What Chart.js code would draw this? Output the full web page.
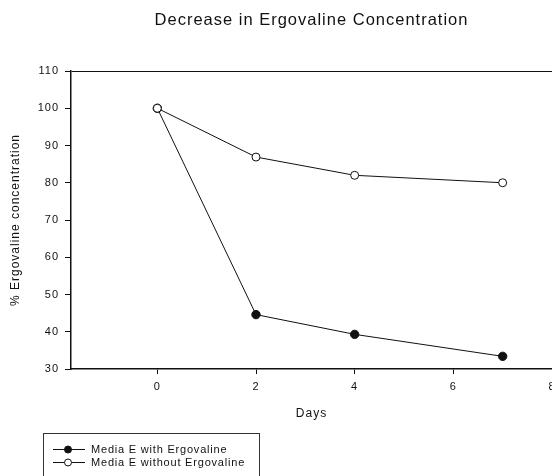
<!DOCTYPE html>
<html>
<head>
<meta charset="utf-8">
<script src="https://cdn.jsdelivr.net/npm/chart.js@4.4.0/dist/chart.umd.min.js"></script>
<style>
    html, body { margin: 0; padding: 0; background: #fff; overflow: hidden; }
    #wrap { width: 552px; height: 476px; overflow: hidden; }
</style>
</head>
<body>
<div id="wrap"><canvas id="myChart" width="575" height="476"></canvas></div>
<script>
// values
const days = [0, 2, 4, 7];
const withErgovaline = [100, 44.6, 39.3, 33.4];
const withoutErgovaline = [100, 86.9, 82.0, 80.0];
const seriesNames = ['Media E with Ergovaline', 'Media E without Ergovaline'];
const xTicks = [0, 2, 4, 6, 8];
const yTicks = [30, 40, 50, 60, 70, 80, 90, 100, 110];

const FONT = '"Liberation Sans", Arial, sans-serif';
const INK = '#111';

const toPoints = (values) => days.map((d, i) => ({ x: d, y: values[i] }));

// scanned text looks slightly letter-spaced
const spacing = {
    id: 'spacing',
    beforeDraw(chart) {
        chart.ctx.letterSpacing = '1px';
    }
};

// boxed legend under the plot, line + marker sample
const legendBox = {
    id: 'legendBox',
    afterDraw(chart) {
        const ctx = chart.ctx;
        ctx.save();
        ctx.strokeStyle = '#333';
        ctx.lineWidth = 1;
        ctx.strokeRect(43.5, 433.5, 216, 60);
        ctx.font = '11px ' + FONT;
        ctx.textBaseline = 'middle';
        ctx.letterSpacing = '0.8px';
        chart.data.datasets.forEach((ds, i) => {
            const y = 449.5 + i * 13;
            ctx.strokeStyle = INK;
            ctx.beginPath();
            ctx.moveTo(53, y);
            ctx.lineTo(85, y);
            ctx.stroke();
            ctx.beginPath();
            ctx.arc(68, y, 3.5, 0, Math.PI * 2);
            ctx.fillStyle = ds.pointBackgroundColor;
            ctx.fill();
            ctx.stroke();
            ctx.fillStyle = INK;
            ctx.fillText(ds.label, 91, y + 0.5);
        });
        ctx.restore();
    }
};

const data = {
    datasets: [
        {
            label: seriesNames[0],
            data: toPoints(withErgovaline),
            order: 1,
            borderColor: INK,
            borderWidth: 1,
            pointBackgroundColor: INK,
            pointBorderColor: INK,
            pointBorderWidth: 1,
            pointRadius: 4.2
        },
        {
            label: seriesNames[1],
            data: toPoints(withoutErgovaline),
            order: 0,
            borderColor: INK,
            borderWidth: 1,
            pointBackgroundColor: '#fff',
            pointBorderColor: INK,
            pointBorderWidth: 1,
            pointRadius: 4
        }
    ]
};

const config = {
    type: 'line',
    data: data,
    options: {
        responsive: false,
        animation: false,
        devicePixelRatio: 1,
        layout: { padding: { left: 0, top: 0, right: 23, bottom: 0 } },
        plugins: {
            legend: { display: false },
            tooltip: { enabled: false },
            title: {
                display: true,
                fullSize: false,
                text: 'Decrease in Ergovaline Concentration',
                color: INK,
                font: { family: FONT, size: 16.5, weight: 'normal' },
                padding: { top: 10.1, bottom: 41.1 }
            }
        },
        scales: {
            x: {
                type: 'linear',
                min: -1.75,
                max: 8,
                afterBuildTicks: (scale) => { scale.ticks = xTicks.map(v => ({ value: v })); },
                afterFit: (scale) => { scale.height = 107; },
                grid: { display: true, drawOnChartArea: false, tickLength: 5, tickColor: INK, lineWidth: 1 },
                border: { display: true, color: INK, width: 1.5 },
                ticks: { color: INK, font: { family: FONT, size: 11 }, padding: 6, maxRotation: 0 },
                title: {
                    display: true,
                    text: 'Days',
                    color: INK,
                    font: { family: FONT, size: 12 },
                    padding: { top: 0, bottom: 55 }
                }
            },
            y: {
                min: 30,
                max: 110,
                afterBuildTicks: (scale) => { scale.ticks = yTicks.map(v => ({ value: v })); },
                afterFit: (scale) => { scale.width = 71; },
                grid: {
                    display: true,
                    drawOnChartArea: true,
                    tickLength: 6,
                    tickColor: INK,
                    lineWidth: 1,
                    color: (ctx) => (ctx.tick && ctx.tick.value === 110 ? INK : 'rgba(0,0,0,0)')
                },
                border: { display: true, color: INK, width: 1.5 },
                ticks: { color: INK, font: { family: FONT, size: 11 }, padding: 6 },
                title: {
                    display: true,
                    text: '% Ergovaline concentration',
                    color: INK,
                    font: { family: FONT, size: 12 },
                    padding: { top: 8, bottom: 0 }
                }
            }
        }
    },
    plugins: [spacing, legendBox]
};

const myChart = new Chart(document.getElementById('myChart'), config);
</script>
</body>
</html>
